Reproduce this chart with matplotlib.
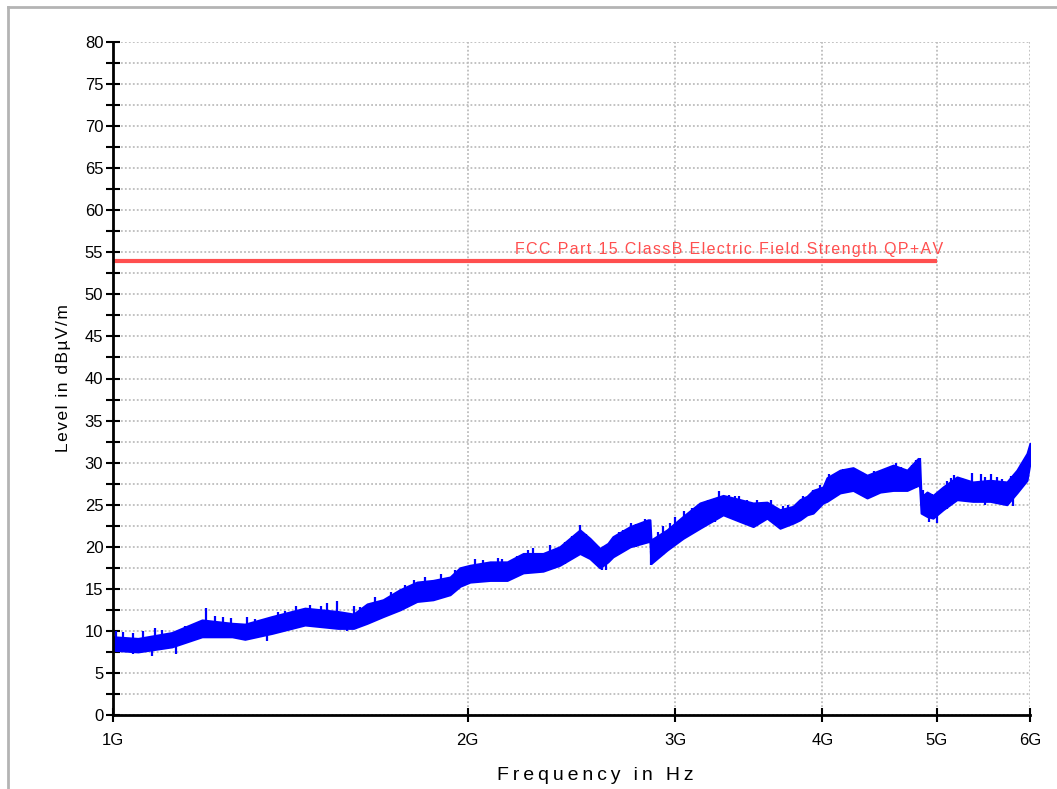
import numpy as np
import matplotlib.pyplot as plt
from matplotlib.ticker import FixedLocator, MultipleLocator, NullFormatter
from matplotlib.lines import Line2D

plt.rcParams['font.family'] = ['Liberation Sans', 'DejaVu Sans']

# measured envelope of the peak trace (GHz, lower dB, upper dB)
freq_ghz = [1.000, 1.050, 1.122, 1.190, 1.262, 1.294, 1.364, 1.455, 1.552, 1.600,
            1.643, 1.695, 1.752, 1.811, 1.869, 1.932, 1.970, 2.009, 2.089, 2.160,
            2.229, 2.317, 2.394, 2.490, 2.539, 2.589, 2.630, 2.656, 2.747, 2.845,
            2.855, 2.861, 2.952, 3.046, 3.148, 3.294, 3.405, 3.493, 3.589, 3.681,
            3.776, 3.828, 3.881, 3.927, 4.004, 4.035, 4.139, 4.246, 4.364, 4.477,
            4.592, 4.719, 4.822, 4.835, 4.850, 4.907, 4.964, 5.062, 5.202, 5.366,
            5.549, 5.735, 5.848, 5.965, 6.000]
level_lo = [7.7, 7.5, 8.1, 9.3, 9.3, 9.0, 9.7, 10.7, 10.3, 10.3,
            10.9, 11.7, 12.5, 13.5, 13.7, 14.3, 15.3, 15.8, 16.0, 16.0,
            16.9, 17.1, 17.8, 19.2, 18.6, 17.5, 18.2, 18.8, 20.0, 20.6,
            20.6, 18.0, 19.6, 21.0, 22.2, 23.8, 23.0, 22.4, 23.4, 22.2,
            22.8, 23.2, 23.8, 24.0, 25.2, 25.4, 26.4, 26.7, 25.8, 26.5,
            26.7, 26.7, 27.3, 27.3, 24.0, 23.6, 23.4, 24.4, 25.6, 25.4,
            25.4, 25.0, 26.4, 27.9, 30.0]
level_hi = [9.3, 9.1, 9.8, 11.3, 10.9, 10.8, 11.7, 12.7, 12.3, 12.0,
            13.2, 13.7, 14.9, 15.8, 16.0, 16.4, 17.5, 17.8, 18.2, 18.2,
            19.2, 19.2, 20.0, 22.0, 21.0, 19.8, 20.4, 21.2, 22.4, 23.2,
            23.2, 20.8, 22.0, 23.6, 25.2, 26.1, 25.6, 25.2, 25.3, 24.4,
            24.8, 25.6, 26.0, 26.7, 27.1, 28.2, 29.1, 29.4, 28.5, 29.1,
            29.7, 29.1, 30.5, 30.3, 25.9, 26.5, 26.1, 27.1, 28.3, 27.7,
            27.9, 27.7, 29.1, 31.1, 32.3]

# individual peaks and dips poking out of the band (GHz, from dB, to dB)
spike_ghz = [1.005, 1.02, 1.04, 1.06, 1.08, 1.085, 1.10, 1.13, 1.15, 1.17,
             1.20, 1.22, 1.24, 1.26, 1.30, 1.32, 1.35, 1.38, 1.40, 1.43,
             1.47, 1.50, 1.52, 1.55, 1.58, 1.60, 1.62, 1.67, 1.72, 1.77,
             1.80, 1.84, 1.90, 1.95, 2.03, 2.06, 2.12, 2.14, 2.20, 2.25,
             2.27, 2.35, 2.42, 2.45, 2.49, 2.52, 2.60, 2.62, 2.69, 2.71,
             2.75, 2.78, 2.80, 2.83, 2.86, 2.90, 2.93, 2.97, 3.00, 3.05,
             3.10, 3.14, 3.20, 3.24, 3.27, 3.33, 3.37, 3.40, 3.45, 3.52,
             3.62, 3.70, 3.74, 3.85, 3.93, 3.98, 4.05, 4.10, 4.16, 4.20,
             4.28, 4.32, 4.42, 4.52, 4.62, 4.66, 4.76, 4.80, 4.84, 4.87,
             4.88, 4.93, 4.95, 5.00, 5.10, 5.14, 5.17, 5.25, 5.30, 5.36,
             5.45, 5.50, 5.56, 5.62, 5.68, 5.78, 5.80, 5.90]
spike_lo = [8.0, 8.5, 7.2, 8.5, 7.0, 8.5, 8.5, 7.2, 8.5, 9.0,
            10.0, 10.0, 10.0, 10.0, 10.0, 10.0, 8.8, 10.5, 10.5, 11.0,
            11.5, 11.0, 11.0, 11.0, 10.0, 11.0, 10.5, 11.5, 12.0, 13.5,
            13.5, 14.5, 14.0, 15.0, 16.0, 16.0, 16.2, 17.0, 16.5, 17.0,
            18.0, 17.5, 18.0, 18.5, 20.0, 19.0, 17.2, 17.2, 20.0, 19.5,
            21.0, 20.0, 21.0, 20.5, 17.8, 19.0, 19.0, 20.5, 20.5, 21.0,
            23.0, 22.0, 23.0, 23.0, 24.5, 24.0, 23.5, 24.5, 23.0, 22.5,
            23.0, 22.5, 22.5, 23.5, 24.0, 25.5, 25.5, 26.5, 26.5, 26.5,
            26.5, 26.0, 26.0, 26.5, 27.0, 27.0, 27.0, 27.0, 27.0, 24.0,
            24.5, 23.0, 23.5, 22.8, 24.5, 25.0, 26.5, 25.5, 25.5, 26.5,
            25.5, 25.0, 26.5, 25.3, 25.0, 25.5, 24.8, 27.0]
spike_hi = [10.0, 9.9, 9.8, 10.0, 8.5, 10.3, 10.1, 8.5, 10.6, 10.8,
            12.7, 11.8, 11.6, 11.5, 11.6, 11.4, 10.0, 12.2, 12.4, 12.9,
            13.1, 13.0, 13.3, 13.5, 11.8, 12.9, 12.8, 14.0, 14.6, 15.5,
            16.0, 16.4, 16.8, 17.2, 18.6, 18.4, 18.7, 18.6, 18.9, 19.6,
            19.8, 20.2, 20.6, 21.3, 22.6, 21.5, 19.0, 19.0, 21.8, 22.0,
            22.8, 22.7, 22.5, 23.3, 19.5, 21.8, 22.5, 22.8, 23.5, 24.2,
            24.6, 25.0, 25.6, 25.8, 26.6, 26.2, 26.0, 26.0, 25.6, 25.5,
            25.5, 24.9, 25.0, 26.0, 26.8, 27.3, 28.6, 28.3, 29.2, 29.3,
            29.0, 28.9, 29.0, 29.3, 29.9, 29.5, 29.7, 30.3, 30.6, 26.7,
            26.3, 25.0, 26.3, 25.0, 27.8, 28.2, 28.5, 28.2, 27.9, 28.8,
            28.7, 28.3, 28.6, 28.3, 28.0, 28.4, 26.5, 29.8]

limit_ghz = [1.0, 5.0]
limit_db = [54.0, 54.0]
limit_name = 'FCC Part 15 ClassB Electric Field Strength QP+AV'

x_ticks_ghz = [1, 2, 3, 4, 5, 6]


def spaced(s, gap):
    return gap.join(s)


fig = plt.figure(figsize=(10.57, 7.89), dpi=100)
ax = fig.add_axes([113/1057, 74/789, 917/1057, 673/789])

hz = np.array(freq_ghz) * 1e9
ax.fill_between(hz, level_lo, level_hi, color='#0000ff', linewidth=1.5,
                edgecolor='#0000ff', zorder=3)
ax.vlines(np.array(spike_ghz) * 1e9, spike_lo, spike_hi, color='#0000ff',
          linewidth=1.6, zorder=3)

ax.plot(np.array(limit_ghz) * 1e9, limit_db, color='#ff4f4f', linewidth=3,
        solid_capstyle='butt', zorder=4)
ax.text(2.193e9, 54.5, spaced(limit_name, '\u200a'), color='#ff4f4f', fontsize=11.5,
        ha='left', va='bottom', zorder=4)

ax.set_xscale('log')
ax.set_xlim(1e9, 6e9)
ax.set_ylim(0, 80)
ax.xaxis.set_major_locator(FixedLocator([g * 1e9 for g in x_ticks_ghz]))
ax.xaxis.set_minor_locator(FixedLocator([]))
ax.xaxis.set_minor_formatter(NullFormatter())
ax.set_xticklabels(['%dG' % g for g in x_ticks_ghz])
ax.yaxis.set_major_locator(MultipleLocator(5))
ax.yaxis.set_minor_locator(MultipleLocator(2.5))

ax.grid(True, which='major', axis='x', color='#bdbdbd', linestyle=(0, (1, 1.2)), linewidth=1.3)
ax.grid(True, which='both', axis='y', color='#bdbdbd', linestyle=(0, (1, 1.2)), linewidth=1.3)
ax.set_axisbelow(True)

for side in ['top', 'right']:
    ax.spines[side].set_visible(False)
for side in ['left', 'bottom']:
    ax.spines[side].set_linewidth(2)
    ax.spines[side].set_zorder(5)

ax.tick_params(axis='both', which='both', direction='inout', length=10, width=1.5,
               labelsize=12, colors='black')
ax.tick_params(axis='x', pad=8)
ax.tick_params(axis='y', pad=2)

ax.set_ylabel(spaced('Level in dBµV/m', '\u200a'), fontsize=12.5, labelpad=10)
fig.text(595/1057, 1 - 775/789, spaced('Frequency in Hz', '\u2009'),
         fontsize=14, ha='center', va='center')

# light frame round the whole picture
fig.add_artist(Line2D([8/1057, 8/1057], [0, 1 - 7/789], transform=fig.transFigure,
                      color='#b4b4b4', linewidth=2))
fig.add_artist(Line2D([8/1057, 1], [1 - 7/789, 1 - 7/789], transform=fig.transFigure,
                      color='#b4b4b4', linewidth=2))

fig.savefig('out.png', dpi=100)
